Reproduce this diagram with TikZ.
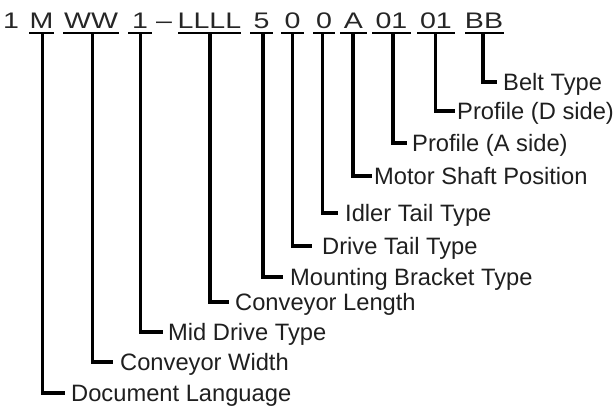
\documentclass[tikz,border=0pt]{standalone}
\usepackage{fontspec}
\setmainfont{Liberation Sans}
\usepackage{graphicx}
\begin{document}
\begin{tikzpicture}[x=1pt,y=-1pt,
  code/.style={inner sep=0pt,anchor=base,text=black!85,font=\fontsize{22.5}{26}\selectfont},
  lab/.style={inner sep=0pt,anchor=west,text height=17pt,text depth=0pt,text=black!88,font=\fontsize{23.7}{27}\selectfont},
  uline/.style={line width=2pt,black},
  leader/.style={line width=3.6pt,black}]
\useasboundingbox (0,0) rectangle (614,408);
% code tokens
\node[code] (c0) at (11,28) {\scalebox{1.27}[1]{1}};
\node[code] (cM) at (41.5,28) {\scalebox{1.27}[1]{M}};
\node[code] (cW) at (91,28) {\scalebox{1.27}[1]{WW}};
\node[code] (c1) at (140,28) {\scalebox{1.27}[1]{1}};
\node[code] (cd) at (164,28) {\scalebox{1.27}[1]{–}};
\node[code] (cL) at (209.5,28) {\scalebox{1.27}[1]{LLLL}};
\node[code] (c5) at (261.5,28) {\scalebox{1.27}[1]{5}};
\node[code] (c0a) at (292.5,28) {\scalebox{1.27}[1]{0}};
\node[code] (c0b) at (324,28) {\scalebox{1.27}[1]{0}};
\node[code] (cA) at (353.5,28) {\scalebox{1.27}[1]{A}};
\node[code] (cP1) at (391.5,28) {\scalebox{1.27}[1]{01}};
\node[code] (cP2) at (436,28) {\scalebox{1.27}[1]{01}};
\node[code] (cB) at (484,28) {\scalebox{1.27}[1]{BB}};
% underlines
\draw[uline] (29,33) -- (54,33);
\draw[uline] (63,33) -- (119,33);
\draw[uline] (128,33) -- (152,33);
\draw[uline] (178,33) -- (241,33);
\draw[uline] (250,33) -- (273,33);
\draw[uline] (281,33) -- (304,33);
\draw[uline] (313,33) -- (335,33);
\draw[uline] (340,33) -- (367,33);
\draw[uline] (372,33) -- (411,33);
\draw[uline] (417,33) -- (455,33);
\draw[uline] (465,33) -- (504,33);
% leader start points
\coordinate (uM) at (42.5,32);
\coordinate (uW) at (92.5,32);
\coordinate (u1) at (140.5,32);
\coordinate (uL) at (210,32);
\coordinate (u5) at (263,32);
\coordinate (u0a) at (292.5,32);
\coordinate (u0b) at (322.5,32);
\coordinate (uA) at (353,32);
\coordinate (uP1) at (393,32);
\coordinate (uP2) at (435.5,32);
\coordinate (uB) at (483,32);
% labels
\node[lab] (lB) at (503,82) {Belt Type};
\node[lab] (lP2) at (457,111) {Profile (D side)};
\node[lab] (lP1) at (412,143) {Profile (A side)};
\node[lab] (lA) at (374,176) {Motor Shaft Position};
\node[lab] (l0b) at (345,213) {Idler Tail Type};
\node[lab] (l0a) at (322,246) {Drive Tail Type};
\node[lab] (l5) at (290,277) {Mounting Bracket Type};
\node[lab] (lL) at (235,302) {Conveyor Length};
\node[lab] (l1) at (168,332) {Mid Drive Type};
\node[lab] (lW) at (120,362) {Conveyor Width};
\node[lab] (lM) at (71,393) {Document Language};
% leaders
\draw[leader] (uB) |- ([xshift=-6pt]lB.west);
\draw[leader] (uP2) |- ([xshift=-2pt]lP2.west);
\draw[leader] (uP1) |- ([xshift=-5pt]lP1.west);
\draw[leader] (uA) |- ([xshift=-2pt]lA.west);
\draw[leader] (u0b) |- ([xshift=-7pt]l0b.west);
\draw[leader] (u0a) |- ([xshift=-10pt]l0a.west);
\draw[leader] (u5) |- ([xshift=-7pt]l5.west);
\draw[leader] (uL) |- ([xshift=-6pt]lL.west);
\draw[leader] (u1) |- ([xshift=-5pt]l1.west);
\draw[leader] (uW) |- ([xshift=-7pt]lW.west);
\draw[leader] (uM) |- ([xshift=-6pt]lM.west);
\end{tikzpicture}
\end{document}
